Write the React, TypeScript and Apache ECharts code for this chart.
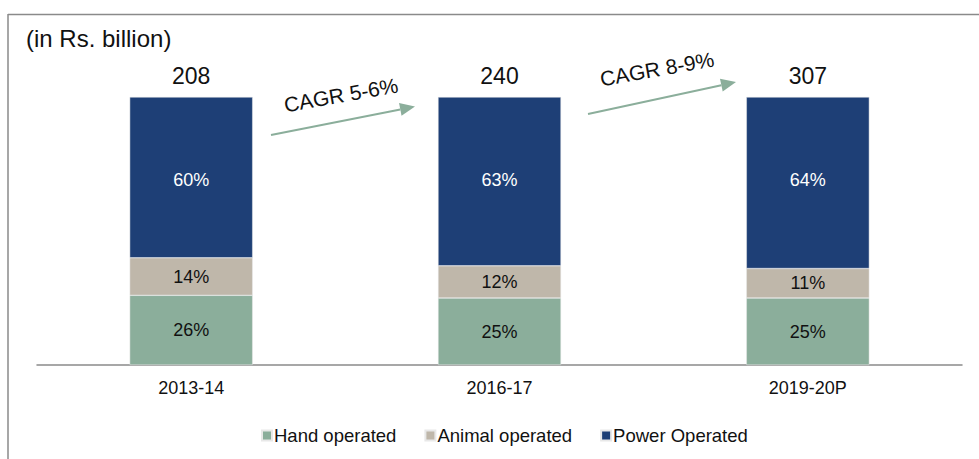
import React, { useEffect, useRef } from "react";
import * as echarts from "echarts";

const categories = ["2013-14", "2016-17", "2019-20P"];
const handOperated = [26, 25, 25];
const animalOperated = [14, 12, 11];
const powerOperated = [60, 63, 64];
const totals = [208, 240, 307];
const cagrLabels = ["CAGR 5-6%", "CAGR 8-9%"];

const FONT = "'Liberation Sans', Arial, sans-serif";
const C_HAND = "#8BAE9B";
const C_ANIMAL = "#BFB7AA";
const C_POWER = "#1E3F76";
const GRAY = "#8A8A8A";

function arrow(x1: number, y1: number, x2: number, y2: number) {
  const ang = Math.atan2(y2 - y1, x2 - x1);
  const len = 15;
  const half = 6.5;
  const bx = x2 - len * Math.cos(ang);
  const by = y2 - len * Math.sin(ang);
  const px = -Math.sin(ang);
  const py = Math.cos(ang);
  return [
    {
      type: "line",
      shape: { x1, y1, x2: bx, y2: by },
      style: { stroke: C_HAND, lineWidth: 2 },
      silent: true,
    },
    {
      type: "polygon",
      shape: {
        points: [
          [x2, y2],
          [bx + px * half, by + py * half],
          [bx - px * half, by - py * half],
        ],
      },
      style: { fill: C_HAND },
      silent: true,
    },
  ];
}

export default function App() {
  const ref = useRef<HTMLDivElement>(null);
  useEffect(() => {
    if (!ref.current) return;
    const chart = echarts.init(ref.current, undefined, { renderer: "svg" });
    const segLabel = (color: string) => ({
      show: true,
      position: "inside" as const,
      color,
      fontSize: 18,
      fontFamily: FONT,
      formatter: (p: any) => p.value + "%",
    });
    chart.setOption({
      animation: false,
      backgroundColor: "#fff",
      textStyle: { fontFamily: FONT },
      grid: { left: 37, right: 17, top: 97, bottom: 94, containLabel: false },
      xAxis: {
        type: "category",
        data: categories,
        axisLine: { show: true, lineStyle: { color: GRAY, width: 1.5 } },
        axisTick: { show: false },
        axisLabel: { color: "#111", fontSize: 18, fontFamily: FONT, margin: 14 },
      },
      yAxis: {
        type: "value",
        min: 0,
        max: 100,
        show: false,
        splitLine: { show: false },
      },
      legend: {
        data: ["Hand operated", "Animal operated", "Power Operated"],
        left: 256,
        top: 421,
        itemWidth: 10,
        itemHeight: 10,
        itemGap: 28,
        icon: "rect",
        textStyle: { fontSize: 18.5, color: "#111", fontFamily: FONT, padding: [0, 0, 0, -3] },
      },
      series: [
        {
          name: "Hand operated",
          type: "bar",
          stack: "s",
          barWidth: 123,
          data: handOperated,
          itemStyle: { color: C_HAND, borderColor: "#e8e8e8", borderWidth: 0.5 },
          label: segLabel("#111"),
        },
        {
          name: "Animal operated",
          type: "bar",
          stack: "s",
          data: animalOperated,
          itemStyle: { color: C_ANIMAL, borderColor: "#e8e8e8", borderWidth: 0.5 },
          label: segLabel("#111"),
        },
        {
          name: "Power Operated",
          type: "bar",
          stack: "s",
          data: powerOperated,
          itemStyle: { color: C_POWER, borderColor: "#e8e8e8", borderWidth: 0.5 },
          label: { ...segLabel("#fff"), position: "insideTop", distance: 74 },
        },
        {
          name: "Total",
          type: "bar",
          stack: "s",
          data: totals.map(() => 0),
          itemStyle: { color: "transparent" },
          label: {
            show: true,
            position: "top",
            distance: 10,
            fontSize: 23,
            color: "#111",
            fontFamily: FONT,
            formatter: (p: any) => String(totals[p.dataIndex]),
          },
        },
      ],
      graphic: [
        {
          type: "line",
          shape: { x1: 8, y1: 14.5, x2: 979, y2: 14.5 },
          style: { stroke: GRAY, lineWidth: 1.5 },
          silent: true,
        },
        {
          type: "line",
          shape: { x1: 8, y1: 14, x2: 8, y2: 459 },
          style: { stroke: GRAY, lineWidth: 1.5 },
          silent: true,
        },
        {
          type: "text",
          left: 26,
          top: 26,
          style: { text: "(in Rs. billion)", font: "24px " + FONT, fill: "#111" },
          silent: true,
        },
        ...arrow(271, 135, 415, 106.5),
        ...arrow(588, 114, 736, 82),
        {
          type: "text",
          x: 341,
          y: 95,
          rotation: (10 * Math.PI) / 180,
          style: {
            text: cagrLabels[0],
            font: "21px " + FONT,
            fill: "#111",
            align: "center",
            verticalAlign: "middle",
          },
          silent: true,
        },
        {
          type: "text",
          x: 657,
          y: 69,
          rotation: (10 * Math.PI) / 180,
          style: {
            text: cagrLabels[1],
            font: "21px " + FONT,
            fill: "#111",
            align: "center",
            verticalAlign: "middle",
          },
          silent: true,
        },
      ],
    });
    return () => chart.dispose();
  }, []);
  return (
    <div
      ref={ref}
      style={{ position: "fixed", left: 0, top: 0, width: 979, height: 459 }}
    />
  );
}
